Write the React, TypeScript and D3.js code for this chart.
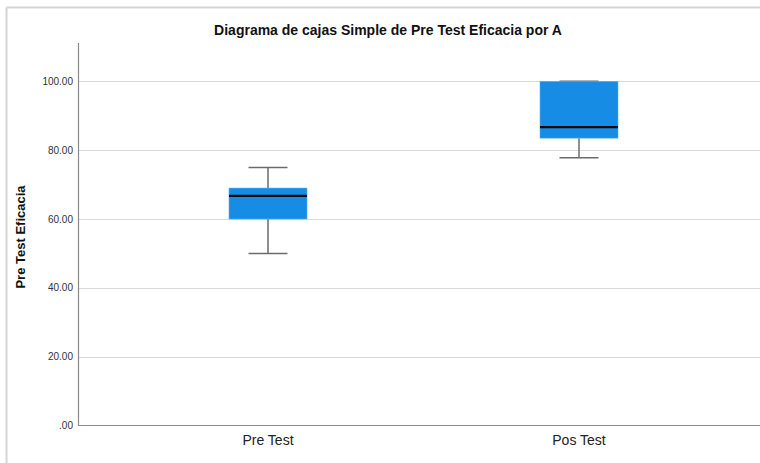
import React from "react";
import * as d3 from "d3";

const categories = ["Pre Test", "Pos Test"];
const whiskerLow = [50, 77.8];
const q1 = [60, 83.5];
const median = [66.7, 86.7];
const q3 = [69, 100];
const whiskerHigh = [75, 100];
const yTicks = [0, 20, 40, 60, 80, 100];
const yTickLabels = [".00", "20.00", "40.00", "60.00", "80.00", "100.00"];
const title = "Diagrama de cajas Simple de Pre Test Eficacia por A";
const yTitle = "Pre Test Eficacia";

export default function App() {
  const W = 760, H = 463;
  const axisX = 78.5;
  const y = d3.scaleLinear().domain([0, 111]).range([425.5, 43.5]);
  const x = d3.scaleBand<string>().domain(categories).range([112.5, 734.5]).padding(0);
  const boxW = 78;
  const capW = 39;
  const font = "'Liberation Sans', Arial, sans-serif";
  return (
    <svg width={W} height={H} style={{ position: "absolute", left: 0, top: 0, background: "#fff" }} fontFamily={font}>
      {/* outer frame */}
      <line x1={6.5} x2={6.5} y1={7.5} y2={H} stroke="#d4d4d4" strokeWidth={2} />
      <line x1={6.5} x2={W} y1={7.5} y2={7.5} stroke="#d4d4d4" strokeWidth={2} />
      <text x={388} y={35} textAnchor="middle" fontSize={14} fontWeight="bold" fill="#111">{title}</text>
      {/* gridlines */}
      {yTicks.map((t, i) => t > 0 && (
        <line key={"g" + i} x1={axisX} x2={W} y1={Math.round(y(t)) + 0.5} y2={Math.round(y(t)) + 0.5} stroke="#d9d9d9" strokeWidth={1.2} />
      ))}
      {/* tick labels */}
      {yTicks.map((t, i) => (
        <text key={"t" + i} x={73} y={y(t) + 3.5} textAnchor="end" fontSize={10} fill="#333">{yTickLabels[i]}</text>
      ))}
      {/* axes */}
      <line x1={axisX} x2={axisX} y1={43} y2={426} stroke="#8a8a8a" strokeWidth={1.2} />
      <line x1={axisX} x2={W} y1={425.5} y2={425.5} stroke="#8a8a8a" strokeWidth={1.2} />
      <text transform={`translate(25,237) rotate(-90)`} textAnchor="middle" fontSize={13} fontWeight="bold" fill="#111">{yTitle}</text>
      {categories.map((c, i) => {
        const cx = (x(c) as number) + x.bandwidth() / 2;
        return (
          <g key={c}>
            <line x1={cx} x2={cx} y1={y(whiskerLow[i])} y2={y(q1[i])} stroke="#6b6b6b" strokeWidth={1.5} />
            <line x1={cx} x2={cx} y1={y(q3[i])} y2={y(whiskerHigh[i])} stroke="#6b6b6b" strokeWidth={1.5} />
            <line x1={cx - capW / 2} x2={cx + capW / 2} y1={y(whiskerLow[i])} y2={y(whiskerLow[i])} stroke="#6b6b6b" strokeWidth={1.5} />
            <line x1={cx - capW / 2} x2={cx + capW / 2} y1={y(whiskerHigh[i])} y2={y(whiskerHigh[i])} stroke="#6b6b6b" strokeWidth={1.5} />
            <rect x={cx - boxW / 2} y={y(q3[i])} width={boxW} height={y(q1[i]) - y(q3[i])} fill="#168ce5" stroke="#5fb0ee" strokeWidth={0.6} />
            <line x1={cx - boxW / 2} x2={cx + boxW / 2} y1={y(median[i])} y2={y(median[i])} stroke="#0a0a0a" strokeWidth={2.2} />
            <text x={cx} y={445} textAnchor="middle" fontSize={14} fill="#222">{c}</text>
          </g>
        );
      })}
    </svg>
  );
}
